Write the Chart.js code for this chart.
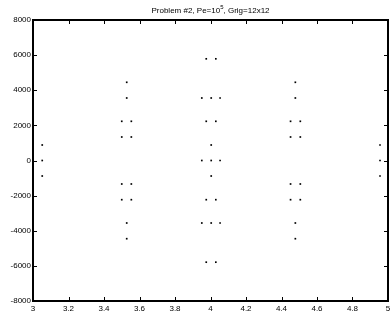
<!DOCTYPE html>
<html>
<head>
<meta charset="utf-8">
<script src="https://cdn.jsdelivr.net/npm/chart.js@4/dist/chart.umd.min.js"></script>
<style>
html,body{margin:0;padding:0;background:#fff;}
#wrap{width:392px;height:320px;}
</style>
</head>
<body>
<div id="wrap"><canvas id="c" width="392" height="320"></canvas></div>
<script>
const xs = [3.052,3.052,3.052,
  3.528,3.528,3.500,3.554,3.500,3.554,3.500,3.554,3.500,3.554,3.528,3.528,
  3.976,4.030,3.951,4.004,4.054,3.976,4.030,4.004,3.951,4.004,4.054,4.004,3.976,4.030,3.951,4.004,4.054,3.976,4.030,
  4.478,4.478,4.451,4.506,4.451,4.506,4.451,4.506,4.451,4.506,4.478,4.478,
  4.955,4.955,4.955];
const ys = [883,0,-883,
  4453,3559,2232,2232,1338,1338,-1338,-1338,-2232,-2232,-3559,-4453,
  5790,5790,3559,3559,3559,2232,2232,883,0,0,0,-883,-2232,-2232,-3559,-3559,-3559,-5790,-5790,
  4453,3559,2232,2232,1338,1338,-1338,-1338,-2232,-2232,-3559,-4453,
  883,0,-883];
const xTicks = [3,3.2,3.4,3.6,3.8,4,4.2,4.4,4.6,4.8,5];
const xTickLabels = ['3','3.2','3.4','3.6','3.8','4','4.2','4.4','4.6','4.8','5'];
const yTicks = [-8000,-6000,-4000,-2000,0,2000,4000,6000,8000];
const yTickLabels = ['-8000','-6000','-4000','-2000','0','2000','4000','6000','8000'];
const titleParts = ['Problem #2, Pe=10','5',', Grig=12x12'];

const FONT = '8px "Liberation Sans", Arial, sans-serif';
const SUPFONT = '6px "Liberation Sans", Arial, sans-serif';

const matlabAxes = {
  id: 'matlabAxes',
  afterDraw(chart) {
    const ctx = chart.ctx;
    const a = chart.chartArea;
    const xs_ = chart.scales.x, ys_ = chart.scales.y;
    ctx.save();
    ctx.strokeStyle = '#000';
    ctx.lineWidth = 1;
    const tl = 4;
    ctx.beginPath();
    xTicks.forEach(v => {
      const px = Math.round(xs_.getPixelForValue(v)) + 0.5;
      ctx.moveTo(px, a.bottom); ctx.lineTo(px, a.bottom - tl);
      ctx.moveTo(px, a.top); ctx.lineTo(px, a.top + tl);
    });
    yTicks.forEach(v => {
      const py = Math.round(ys_.getPixelForValue(v)) + 0.5;
      ctx.moveTo(a.left, py); ctx.lineTo(a.left + tl, py);
      ctx.moveTo(a.right, py); ctx.lineTo(a.right - tl, py);
    });
    ctx.stroke();
    ctx.lineWidth = 2;
    ctx.strokeRect(Math.round(a.left), Math.round(a.top), Math.round(a.right - a.left), Math.round(a.bottom - a.top));
    ctx.fillStyle = '#000';
    ctx.font = FONT;
    ctx.textAlign = 'center';
    ctx.textBaseline = 'top';
    xTicks.forEach((v, i) => {
      ctx.fillText(xTickLabels[i], xs_.getPixelForValue(v), a.bottom + 4);
    });
    ctx.textAlign = 'right';
    ctx.textBaseline = 'middle';
    yTicks.forEach((v, i) => {
      ctx.fillText(yTickLabels[i], a.left - 2, ys_.getPixelForValue(v));
    });
    ctx.textBaseline = 'alphabetic';
    ctx.textAlign = 'left';
    ctx.font = FONT;
    const w1 = ctx.measureText(titleParts[0]).width;
    const w3 = ctx.measureText(titleParts[2]).width;
    ctx.font = SUPFONT;
    const w2 = ctx.measureText(titleParts[1]).width;
    const total = w1 + w2 + w3;
    let x0 = (a.left + a.right) / 2 - total / 2;
    const base = a.top - 7;
    ctx.font = FONT;
    ctx.fillText(titleParts[0], x0, base);
    ctx.font = SUPFONT;
    ctx.fillText(titleParts[1], x0 + w1, base - 4);
    ctx.font = FONT;
    ctx.fillText(titleParts[2], x0 + w1 + w2, base);
    ctx.restore();
  }
};

new Chart(document.getElementById('c'), {
  type: 'scatter',
  data: {
    datasets: [{
      data: xs.map((x, i) => ({x: x, y: ys[i]})),
      backgroundColor: '#000',
      borderColor: '#000',
      pointStyle: 'rect',
      pointRadius: 1.2,
      borderWidth: 0
    }]
  },
  options: {
    responsive: false,
    animation: false,
    devicePixelRatio: 1,
    layout: {padding: {top: 20, right: 3, left: 0, bottom: 0}},
    plugins: {legend: {display: false}, tooltip: {enabled: false}, title: {display: false}},
    scales: {
      x: {
        type: 'linear', min: 3, max: 5,
        grid: {display: false, drawTicks: false},
        border: {display: false},
        ticks: {display: false},
        afterFit(s) { s.height = 19; }
      },
      y: {
        type: 'linear', min: -8000, max: 8000,
        grid: {display: false, drawTicks: false},
        border: {display: false},
        ticks: {display: false},
        afterFit(s) { s.width = 33; }
      }
    }
  },
  plugins: [matlabAxes]
});
</script>
</body>
</html>
